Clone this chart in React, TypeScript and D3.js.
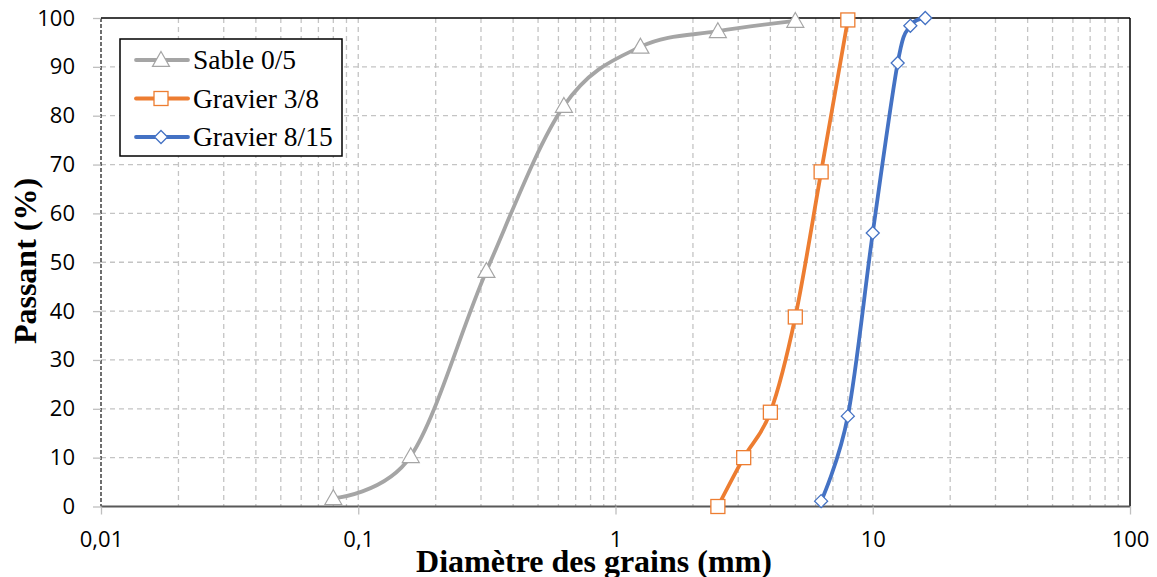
import * as React from "react";
import { useEffect, useRef } from "react";
import * as d3 from "d3";

// sieve sizes (mm) and percentage passing
const sableSizes = [0.08, 0.16, 0.315, 0.63, 1.25, 2.5, 5];
const sablePassing = [1.7, 10.3, 48.2, 82, 94.1, 97.3, 99.4];

const g38Sizes = [2.5, 3.15, 4, 5, 6.3, 8];
const g38Passing = [0, 10, 19.3, 38.8, 68.5, 99.6];

const g815Sizes = [6.3, 8, 10, 12.5, 14, 16];
const g815Passing = [1.1, 18.5, 56, 90.8, 98.4, 100];

const xTicks = [0.01, 0.1, 1, 10, 100];
const yTicks = [0, 10, 20, 30, 40, 50, 60, 70, 80, 90, 100];

const seriesNames = ["Sable 0/5", "Gravier 3/8", "Gravier 8/15"];
const colors = ["#A5A5A5", "#ED7D31", "#4472C4"];
const markerKinds = ["triangle", "square", "diamond"];

const W = 1157;
const H = 577;
const margin = { left: 101, right: 27, top: 18, bottom: 70 };

function App() {
  const svgRef = useRef<SVGSVGElement>(null);

  useEffect(() => {
    const svg = d3.select(svgRef.current);
    svg.selectAll("*").remove();

    const x = d3.scaleLog().domain([0.01, 100]).range([margin.left, W - margin.right]);
    const y = d3.scaleLinear().domain([0, 100]).range([H - margin.bottom - 0.5, margin.top]);

    const x0 = margin.left;
    const x1 = W - margin.right;
    const y0 = y(0);
    const y1 = y(100);

    // grid
    const grid = svg.append("g");
    const minor: number[] = [];
    for (let e = -2; e < 2; e++) {
      for (let k = 1; k <= 9; k++) minor.push(k * Math.pow(10, e));
    }
    grid
      .selectAll(".vg")
      .data(minor.filter((v) => v > 0.01 && v < 100))
      .join("line")
      .attr("x1", (d) => x(d))
      .attr("x2", (d) => x(d))
      .attr("y1", y1)
      .attr("y2", y0)
      .attr("stroke", "#C4C4C4")
      .attr("stroke-width", 1.3)
      .attr("stroke-dasharray", "5,4");
    grid
      .selectAll(".hg")
      .data(yTicks.filter((v) => v > 0 && v < 100))
      .join("line")
      .attr("x1", x0)
      .attr("x2", x1)
      .attr("y1", (d) => y(d))
      .attr("y2", (d) => y(d))
      .attr("stroke", "#C4C4C4")
      .attr("stroke-width", 1.3)
      .attr("stroke-dasharray", "5,4");

    // frame
    svg.append("line").attr("x1", x0).attr("x2", x1).attr("y1", y1).attr("y2", y1).attr("stroke", "#000").attr("stroke-width", 1.5);
    svg.append("line").attr("x1", x1).attr("x2", x1).attr("y1", y1).attr("y2", y0).attr("stroke", "#000").attr("stroke-width", 1.5);
    svg.append("line").attr("x1", x0).attr("x2", x0).attr("y1", y1).attr("y2", y0).attr("stroke", "#222").attr("stroke-width", 1.3).attr("stroke-dasharray", "4,2");

    // y axis
    const yAxis: any = d3.axisLeft(y).tickValues(yTicks).tickSize(8).tickPadding(18);
    const gy = svg.append("g").attr("transform", `translate(${x0},0)`).call(yAxis);
    gy.select(".domain").remove();
    gy.selectAll(".tick line").attr("stroke", "#BFBFBF").attr("stroke-width", 1.3);
    gy.selectAll("text")
      .attr("font-family", "'Open Sans', sans-serif")
      .attr("font-size", 22)
      .attr("fill", "#000");

    // x axis
    const xAxis: any = d3
      .axisBottom(x)
      .tickValues(xTicks)
      .tickSize(8)
      .tickPadding(17)
      .tickFormat((d: any) => String(d).replace(".", ","));
    const gx = svg.append("g").attr("transform", `translate(0,${y0})`).call(xAxis);
    gx.select(".domain").attr("stroke", "#595959").attr("stroke-width", 2.2).attr("d", `M${x0},0H${x1}`);
    gx.selectAll(".tick line").attr("stroke", "#BFBFBF").attr("stroke-width", 1.3);
    gx.selectAll("text")
      .attr("font-family", "'Open Sans', sans-serif")
      .attr("font-size", 22)
      .attr("fill", "#000");

    // series
    const series = [
      { xs: sableSizes, ys: sablePassing },
      { xs: g38Sizes, ys: g38Passing },
      { xs: g815Sizes, ys: g815Passing },
    ];

    const lineGen = d3
      .line<[number, number]>()
      .x((d) => x(d[0]))
      .y((d) => y(d[1]))
      .curve(d3.curveCardinal.tension(0));

    const drawMarker = (g: any, kind: string, cx: number, cy: number, color: string) => {
      if (kind === "triangle") {
        const s = 8.5;
        g.append("path")
          .attr("d", `M${cx},${cy - s}L${cx + s},${cy + s * 0.75}L${cx - s},${cy + s * 0.75}Z`)
          .attr("fill", "#fff")
          .attr("stroke", color)
          .attr("stroke-width", 1.2);
      } else if (kind === "square") {
        const s = 7;
        g.append("rect")
          .attr("x", cx - s)
          .attr("y", cy - s)
          .attr("width", 2 * s)
          .attr("height", 2 * s)
          .attr("fill", "#fff")
          .attr("stroke", color)
          .attr("stroke-width", 1.3);
      } else {
        const s = 6.5;
        g.append("path")
          .attr("d", `M${cx},${cy - s}L${cx + s},${cy}L${cx},${cy + s}L${cx - s},${cy}Z`)
          .attr("fill", "#fff")
          .attr("stroke", color)
          .attr("stroke-width", 1.3);
      }
    };

    series.forEach((s, i) => {
      const pts: [number, number][] = s.xs.map((v, j) => [v, s.ys[j]]);
      svg
        .append("path")
        .attr("d", lineGen(pts))
        .attr("fill", "none")
        .attr("stroke", colors[i])
        .attr("stroke-width", 3.8)
        .attr("stroke-linecap", "round");
      const mg = svg.append("g");
      pts.forEach((p) => drawMarker(mg, markerKinds[i], x(p[0]), y(p[1]), colors[i]));
    });

    // legend
    const lg = svg.append("g");
    lg.append("rect")
      .attr("x", 120)
      .attr("y", 39)
      .attr("width", 222)
      .attr("height", 117)
      .attr("fill", "#fff")
      .attr("stroke", "#000")
      .attr("stroke-width", 1.5);
    seriesNames.forEach((name, i) => {
      const cy = 60 + i * 38.5;
      lg.append("line")
        .attr("x1", 136)
        .attr("x2", 188)
        .attr("y1", cy)
        .attr("y2", cy)
        .attr("stroke", colors[i])
        .attr("stroke-width", 3.8)
        .attr("stroke-linecap", "round");
      drawMarker(lg, markerKinds[i], 161, cy, colors[i]);
      lg.append("text")
        .attr("x", 193)
        .attr("y", cy + 9)
        .attr("font-family", "'Liberation Serif', serif")
        .attr("font-size", 27.5)
        .attr("fill", "#000")
        .text(name);
    });

    // axis titles
    svg
      .append("text")
      .attr("x", 594)
      .attr("y", 572)
      .attr("text-anchor", "middle")
      .attr("font-family", "'Liberation Serif', serif")
      .attr("font-weight", "bold")
      .attr("font-size", 32)
      .attr("fill", "#000")
      .text("Diamètre des grains (mm)");
    svg
      .append("text")
      .attr("transform", `translate(36,261) rotate(-90)`)
      .attr("text-anchor", "middle")
      .attr("font-family", "'Liberation Serif', serif")
      .attr("font-weight", "bold")
      .attr("font-size", 32)
      .attr("fill", "#000")
      .text("Passant (%)");
  }, []);

  return (
    <svg
      ref={svgRef}
      width={W}
      height={H}
      style={{ position: "absolute", left: 0, top: 0, background: "#fff" }}
    />
  );
}

export default App;
